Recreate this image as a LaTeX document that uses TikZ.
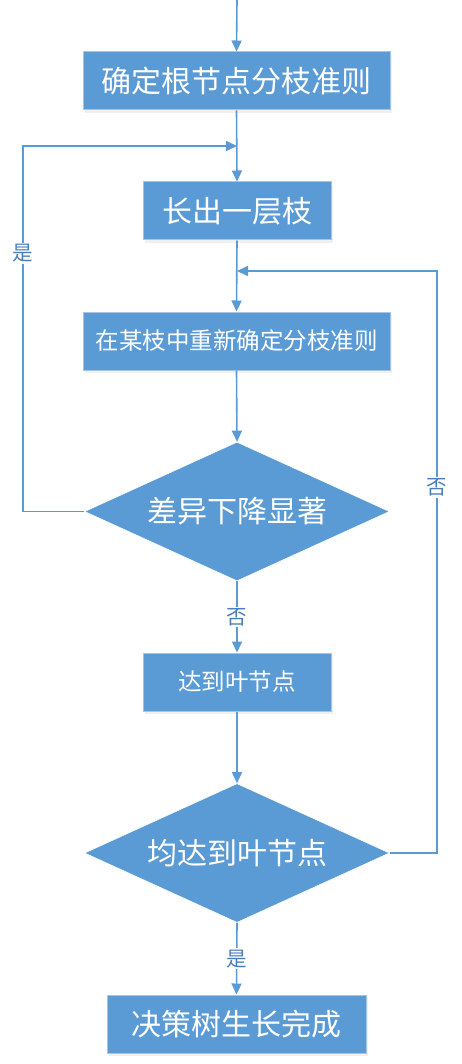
\documentclass[tikz,border=0pt]{standalone}
\usepackage{fontspec}
\newfontfamily\cjk{Noto Sans CJK SC}
\usetikzlibrary{shapes.geometric,arrows.meta,shadows}
\definecolor{fillblue}{HTML}{5B9BD5}
\definecolor{edgeblue}{HTML}{A9C3E3}
\definecolor{lineblue}{HTML}{5B9BD5}
\definecolor{lblblue}{HTML}{4A7EBB}
\tikzset{
  box/.style={rectangle, fill=fillblue, draw=edgeblue, line width=1pt, inner sep=0pt,
    text=white, font=\cjk\fontsize{30}{32}\selectfont,
    drop shadow={opacity=0.12, shadow xshift=2pt, shadow yshift=-3pt}},
  smallbox/.style={box, font=\cjk\fontsize{23.5}{25}\selectfont},
  dia/.style={diamond, fill=fillblue, draw=white, line width=0.6pt, inner sep=0pt, aspect=2.2,
    minimum width=305pt, minimum height=139pt, text=white, font=\cjk\fontsize{30}{32}\selectfont},
  conn/.style={draw=lineblue, line width=1.6pt, -{Triangle[length=11pt,width=10pt]}},
  lbl/.style={fill=white, inner sep=1.5pt, text=lblblue, font=\cjk\fontsize{20.5}{22}\selectfont}
}
\begin{document}
\begin{tikzpicture}[x=1pt,y=-1pt]
\useasboundingbox (0,0) rectangle (461,1064);
\coordinate (start) at (237,0);
\node[box, minimum width=307pt, minimum height=58pt] (b1) at (236.5,81) {确定根节点分枝准则};
\node[box, minimum width=188pt, minimum height=58pt] (b2) at (237,211) {长出一层枝};
\node[smallbox, minimum width=307pt, minimum height=58pt] (b3) at (236.5,341) {在某枝中重新确定分枝准则};
\node[dia] (d1) at (237,511.5) {差异下降显著};
\node[smallbox, minimum width=188pt, minimum height=58pt] (b4) at (237,682) {达到叶节点};
\node[dia] (d2) at (237,853) {均达到叶节点};
\node[box, minimum width=259pt, minimum height=58pt] (b5) at (236.5,1024) {决策树生长完成};
\coordinate (lj) at (23,146);
\coordinate (mj) at (237,146);
\coordinate (rj) at (437,271);
\coordinate (mj2) at (237,271);
\draw[conn] (start) -- (b1.north);
\draw[conn] (b1.south) -- (b2.north);
\draw[conn] (b2.south) -- (b3.north);
\draw[conn] (b3.south) -- (d1.north);
\draw[conn] (d1.south) -- node[lbl] {否} (b4.north);
\draw[conn] (b4.south) -- (d2.north);
\draw[conn] (d2.south) -- node[lbl] {是} (b5.north);
\draw[conn] (d1.west) -| node[lbl, pos=0.853] {是} (lj) -- (mj);
\draw[conn] (d2.east) -| node[lbl, pos=0.814] {否} (rj) -- (mj2);
\end{tikzpicture}
\end{document}
